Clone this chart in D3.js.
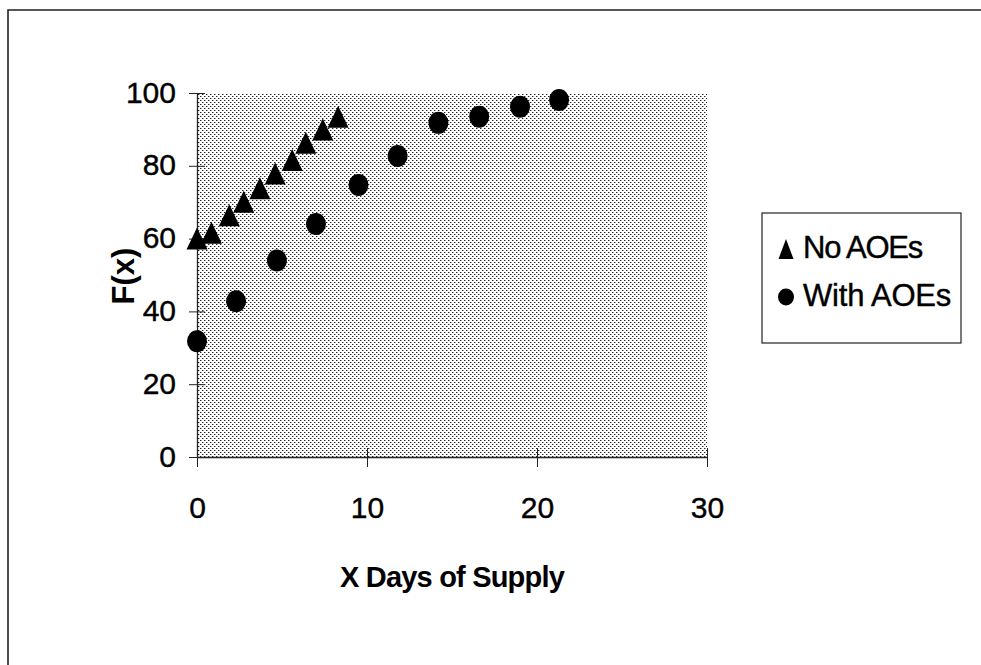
<!DOCTYPE html>
<html>
<head>
<meta charset="utf-8">
<script src="https://cdn.jsdelivr.net/npm/d3@7"></script>
<style>
  body { margin: 0; background: #fff; }
  svg { display: block; font-family: Arial, "Liberation Sans", sans-serif; }
</style>
</head>
<body>
<div class="chart"></div>
<script>
// days of supply / F(x)
const noAoeX = [0, 0.85, 1.9, 2.75, 3.7, 4.6, 5.6, 6.4, 7.4, 8.3];
const noAoeY = [60, 61.6, 66.4, 70.1, 73.8, 77.9, 81.6, 86.3, 90, 93.5];
const withAoeX = [0, 2.3, 4.7, 7.0, 9.5, 11.8, 14.2, 16.6, 19.0, 21.3];
const withAoeY = [31.8, 42.8, 54.0, 64.0, 74.7, 82.7, 91.8, 93.5, 96.2, 98.1];
const xTicks = [0, 10, 20, 30];
const yTicks = [0, 20, 40, 60, 80, 100];
const seriesNames = ['No AOEs', 'With AOEs'];

function drawChart() {
  const w = 981;
  const h = 665;
  const plot = { left: 197, top: 93, right: 707, bottom: 457 };

  const svg = d3.select('.chart')
    .append('svg')
    .attr('width', w)
    .attr('height', h);

  // halftone-ish dot fill of the plot area
  const defs = svg.append('defs');
  const pat = defs.append('pattern')
    .attr('id', 'dots')
    .attr('patternUnits', 'userSpaceOnUse')
    .attr('width', 4)
    .attr('height', 4);
  pat.append('rect').attr('width', 4).attr('height', 4).attr('fill', '#fff');
  [[0, 0, '#222'], [2, 2, '#222'], [1, 0, '#aaa'], [3, 2, '#aaa']].forEach(p => {
    pat.append('rect')
      .attr('x', p[0]).attr('y', p[1])
      .attr('width', 1).attr('height', 1)
      .attr('fill', p[2])
      .attr('shape-rendering', 'crispEdges');
  });

  // outer frame (top + left only show in the scan)
  svg.append('path')
    .attr('d', `M8,${h} L8,10 L${w},10`)
    .attr('fill', 'none')
    .attr('stroke', '#222')
    .attr('stroke-width', 1.6);

  const x = d3.scaleLinear().domain([0, 30]).range([plot.left, plot.right]);
  const y = d3.scaleLinear().domain([0, 100]).range([plot.bottom, plot.top]);

  svg.append('rect')
    .attr('x', plot.left)
    .attr('y', plot.top)
    .attr('width', plot.right - plot.left)
    .attr('height', plot.bottom - plot.top)
    .attr('fill', 'url(#dots)')
    .attr('shape-rendering', 'crispEdges');

  const xAxis = svg.append('g')
    .attr('transform', `translate(0, ${plot.bottom})`)
    .call(d3.axisBottom(x).tickValues(xTicks).tickSize(10).tickSizeOuter(0).tickPadding(30));
  xAxis.selectAll('.tick line').attr('y1', -9);

  const yAxis = svg.append('g')
    .attr('transform', `translate(${plot.left}, 0)`)
    .call(d3.axisLeft(y).tickValues(yTicks).tickSize(8).tickSizeOuter(0).tickPadding(13));
  yAxis.selectAll('.tick line').attr('x1', -8).attr('x2', 8);

  svg.selectAll('.domain').attr('stroke', '#222').attr('stroke-width', 1.3);
  svg.selectAll('.tick line').attr('stroke', '#222');
  svg.selectAll('.tick text')
    .attr('font-size', 30)
    .attr('fill', '#000')
    .attr('stroke', '#000')
    .attr('stroke-width', 0.4)
    .attr('font-family', 'Arial, "Liberation Sans", sans-serif');
  yAxis.selectAll('.tick text').attr('dy', '0.3em');

  // axis titles
  svg.append('text')
    .attr('x', 452)
    .attr('y', 587)
    .attr('text-anchor', 'middle')
    .attr('font-size', 29)
    .attr('font-weight', 'bold')
    .attr('letter-spacing', -0.8)
    .text('X Days of Supply');

  svg.append('text')
    .attr('transform', 'translate(134, 276) rotate(-90)')
    .attr('text-anchor', 'middle')
    .attr('font-size', 31)
    .attr('font-weight', 'bold')
    .text('F(x)');

  const tri = (tw, th) => `M0,${-th / 2} L${tw / 2},${th / 2} L${-tw / 2},${th / 2} Z`;

  svg.append('g')
    .selectAll('path')
    .data(d3.zip(noAoeX, noAoeY))
    .enter()
    .append('path')
    .attr('d', tri(21, 22))
    .attr('transform', d => `translate(${x(d[0])}, ${y(d[1])})`)
    .attr('fill', '#000');

  svg.append('g')
    .selectAll('ellipse')
    .data(d3.zip(withAoeX, withAoeY))
    .enter()
    .append('ellipse')
    .attr('cx', d => x(d[0]))
    .attr('cy', d => y(d[1]))
    .attr('rx', 10)
    .attr('ry', 11)
    .attr('fill', '#000');

  // legend
  const legend = svg.append('g');
  legend.append('rect')
    .attr('x', 762)
    .attr('y', 213)
    .attr('width', 199)
    .attr('height', 130)
    .attr('fill', '#fff')
    .attr('stroke', '#222')
    .attr('stroke-width', 1.2);

  legend.append('path')
    .attr('d', tri(15, 20))
    .attr('transform', 'translate(786, 249)')
    .attr('fill', '#000');
  legend.append('ellipse')
    .attr('cx', 786)
    .attr('cy', 297)
    .attr('rx', 8)
    .attr('ry', 8.5)
    .attr('fill', '#000');

  legend.selectAll('text')
    .data(seriesNames)
    .enter()
    .append('text')
    .attr('x', 803)
    .attr('y', (d, i) => 258 + i * 48)
    .attr('font-size', 31)
    .attr('stroke', '#000')
    .attr('stroke-width', 0.4)
    .attr('letter-spacing', (d, i) => i === 0 ? -1.2 : -0.2)
    .text(d => d);
}

drawChart();
</script>
</body>
</html>
